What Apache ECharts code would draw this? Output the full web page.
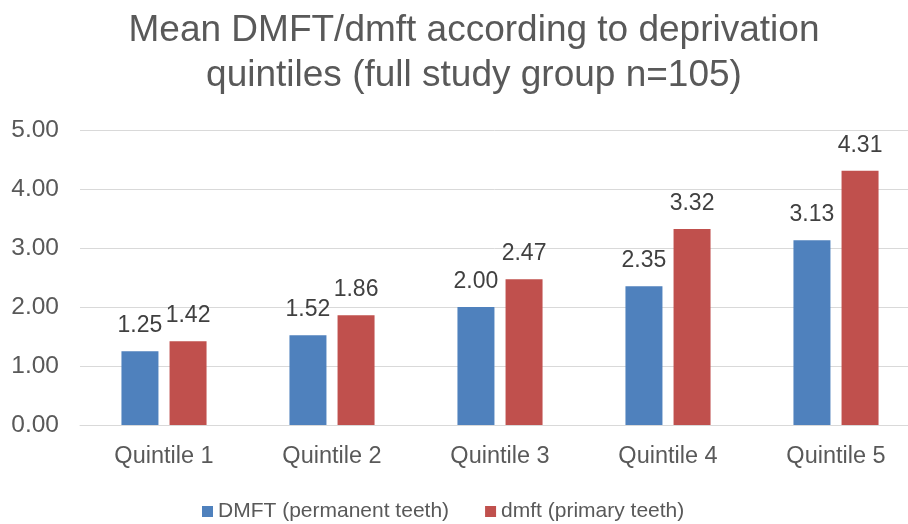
<!DOCTYPE html>
<html>
<head>
<meta charset="utf-8">
<script src="https://cdn.jsdelivr.net/npm/echarts@6/dist/echarts.min.js"></script>
<style>html,body{margin:0;padding:0;background:#fff}#c{width:908px;height:524px}</style>
</head>
<body>
<div id="c"></div>
<script>
const categories = ['Quintile 1', 'Quintile 2', 'Quintile 3', 'Quintile 4', 'Quintile 5'];
const dmftPermanent = [1.25, 1.52, 2.00, 2.35, 3.13];
const dmftPrimary = [1.42, 1.86, 2.47, 3.32, 4.31];
const seriesNames = ['DMFT (permanent teeth)', 'dmft (primary teeth)'];
const yTicks = { min: 0, max: 5, interval: 1 };

const font = '"Liberation Sans", Arial, sans-serif';
const chart = echarts.init(document.getElementById('c'), null, { renderer: 'canvas' });
const labelCfg = {
  show: true, position: 'top', distance: 14,
  fontFamily: font, fontSize: 23, color: '#404040',
  formatter: p => p.value.toFixed(2)
};
chart.setOption({
  animation: false,
  backgroundColor: '#fff',
  title: {
    text: 'Mean DMFT/dmft according to deprivation\nquintiles (full study group n=105)',
    left: 474, top: 8, padding: 0, textAlign: 'center',
    textStyle: { fontFamily: font, fontSize: 37, fontWeight: 'normal', color: '#595959', lineHeight: 45 }
  },
  legend: {
    data: seriesNames,
    left: 202, top: 501, padding: 0,
    itemWidth: 11, itemHeight: 11, itemGap: 36,
    icon: 'rect',
    textStyle: { fontFamily: font, fontSize: 21, color: '#595959' }
  },
  grid: { left: 80, width: 840, top: 130, bottom: 99, containLabel: false, outerBoundsMode: 'none' },
  xAxis: {
    type: 'category', data: categories,
    axisLine: { show: true, lineStyle: { color: '#d9d9d9', width: 1 } },
    axisTick: { show: false },
    axisLabel: { fontFamily: font, fontSize: 23.5, color: '#595959', margin: 20 }
  },
  yAxis: {
    type: 'value', min: yTicks.min, max: yTicks.max, interval: yTicks.interval,
    axisLine: { show: false }, axisTick: { show: false },
    splitLine: { lineStyle: { color: '#d9d9d9', width: 1 } },
    axisLabel: { fontFamily: font, fontSize: 24.5, color: '#595959', margin: 21, formatter: v => v.toFixed(2) }
  },
  series: [
    { name: seriesNames[0], type: 'bar', data: dmftPermanent, barWidth: 37, barGap: '30%',
      itemStyle: { color: '#4F81BD' }, label: labelCfg },
    { name: seriesNames[1], type: 'bar', data: dmftPrimary, barWidth: 37, barGap: '30%',
      itemStyle: { color: '#C0504D' }, label: labelCfg }
  ]
});
</script>
</body>
</html>
